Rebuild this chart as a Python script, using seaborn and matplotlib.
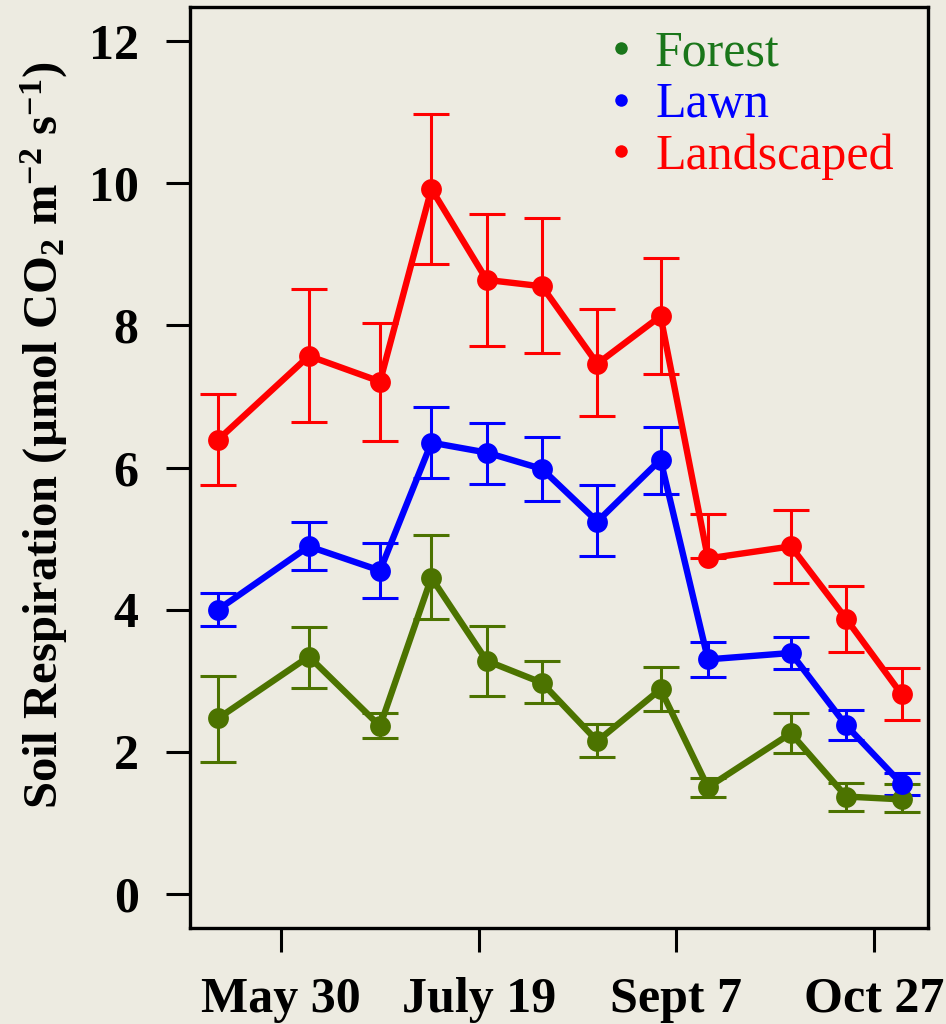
import matplotlib
matplotlib.use("Agg")
import matplotlib.pyplot as plt
from matplotlib.lines import Line2D
import numpy as np
import pandas as pd
import seaborn as sns

# Sampling dates as day of year
sample_day = [134, 157, 175, 188, 202, 216, 230, 246, 258, 279, 293, 307]

# Mean soil respiration and error-bar limits per land-cover type
forest = [2.47, 3.34, 2.36, 4.45, 3.28, 2.97, 2.15, 2.88, 1.50, 2.26, 1.37, 1.33]
forest_hi = [3.07, 3.76, 2.54, 5.05, 3.77, 3.28, 2.39, 3.19, 1.63, 2.54, 1.56, 1.55]
forest_lo = [1.86, 2.90, 2.19, 3.87, 2.79, 2.68, 1.93, 2.58, 1.37, 1.98, 1.16, 1.15]

lawn = [4.00, 4.89, 4.55, 6.35, 6.21, 5.98, 5.24, 6.11, 3.30, 3.39, 2.37, 1.55]
lawn_hi = [4.23, 5.23, 4.94, 6.85, 6.63, 6.43, 5.75, 6.57, 3.55, 3.61, 2.59, 1.70]
lawn_lo = [3.77, 4.56, 4.17, 5.85, 5.77, 5.53, 4.76, 5.63, 3.05, 3.16, 2.17, 1.39]

landscaped = [6.39, 7.57, 7.21, 9.92, 8.64, 8.55, 7.46, 8.13, 4.72, 4.89, 3.87, 2.81]
landscaped_hi = [7.03, 8.51, 8.03, 10.98, 9.57, 9.51, 8.23, 8.95, 5.35, 5.40, 4.33, 3.18]
landscaped_lo = [5.75, 6.64, 6.37, 8.86, 7.71, 7.61, 6.72, 7.31, 4.72, 4.37, 3.41, 2.45]

site_names = ["Forest", "Lawn", "Landscaped"]
tick_days = [150, 200, 250, 300]
tick_labels = ["May 30", "July 19", "Sept 7", "Oct 27"]
y_ticks = [0, 2, 4, 6, 8, 10, 12]

line_colors = {"Forest": "#4C7300", "Lawn": "#0000FF", "Landscaped": "#FF0000"}
text_colors = {"Forest": "#1A761A", "Lawn": "#0000FF", "Landscaped": "#FF0000"}
bg = "#EDEBE1"

frames = []
for name, m, hi, lo in [("Forest", forest, forest_hi, forest_lo),
                        ("Lawn", lawn, lawn_hi, lawn_lo),
                        ("Landscaped", landscaped, landscaped_hi, landscaped_lo)]:
    frames.append(pd.DataFrame({"day": sample_day, "resp": m, "hi": hi, "lo": lo, "site": name}))
df = pd.concat(frames, ignore_index=True)

sns.set_theme(style="ticks")
plt.rcParams["font.family"] = ["Liberation Serif", "DejaVu Serif"]
plt.rcParams["mathtext.fontset"] = "custom"
plt.rcParams["mathtext.rm"] = "Liberation Serif:bold"
plt.rcParams["mathtext.it"] = "Liberation Serif:bold"
plt.rcParams["mathtext.bf"] = "Liberation Serif:bold"
plt.rcParams["mathtext.default"] = "rm"

fig = plt.figure(figsize=(9.46, 10.24), dpi=100, facecolor=bg)
ax = fig.add_axes([190 / 946, 1 - 928 / 1024, (928 - 190) / 946, (928 - 7) / 1024])
ax.set_facecolor(bg)

for name in site_names:
    sub = df[df["site"] == name]
    c = line_colors[name]
    yerr = np.vstack([sub["resp"] - sub["lo"], sub["hi"] - sub["resp"]])
    ax.errorbar(sub["day"], sub["resp"], yerr=yerr, fmt="none", ecolor=c,
                elinewidth=2.2, capsize=13, capthick=2.2, zorder=2)
    sns.lineplot(data=sub, x="day", y="resp", color=c, marker="o", markersize=15,
                 markeredgewidth=0, linewidth=4.6, sort=False, errorbar=None,
                 legend=False, ax=ax, zorder=3)

ax.set_xlim(126.9, 313.7)
ax.set_ylim(-0.48, 12.48)
ax.set_xticks(tick_days)
ax.set_xticklabels(tick_labels, fontsize=36, fontweight="bold")
ax.set_yticks(y_ticks)
ax.set_yticklabels([str(v) for v in y_ticks], fontsize=36, fontweight="bold")
ax.tick_params(axis="both", direction="out", length=17, width=2.2, color="black",
               labelcolor="black", bottom=True, left=True, top=False, right=False)
ax.tick_params(axis="y", pad=20)
ax.tick_params(axis="x", pad=18)
ax.set_xlabel("")
ax.set_ylabel("Soil Respiration (µmol CO$_{2}$ m$^{-2}$ s$^{-1}$)", fontsize=35,
              fontweight="bold", color="black")
ax.yaxis.set_label_coords(-0.162, 0.535)

for sp in ax.spines.values():
    sp.set_visible(True)
    sp.set_color("black")
    sp.set_linewidth(2.4)

handles = [Line2D([], [], ls="none", marker="o", markersize=9, markeredgewidth=0,
                  color=text_colors[n]) for n in site_names]
leg = ax.legend(handles, site_names, loc="upper left",
                bbox_to_anchor=(606 / 946, 1 - 30 / 1024), bbox_transform=fig.transFigure,
                frameon=False, fontsize=36, borderpad=0, handlelength=0.6,
                handletextpad=0.38, labelspacing=0.1, borderaxespad=0)
for t, n in zip(leg.get_texts(), site_names):
    t.set_color(text_colors[n])

fig.savefig("out.png", dpi=100, facecolor=bg)
